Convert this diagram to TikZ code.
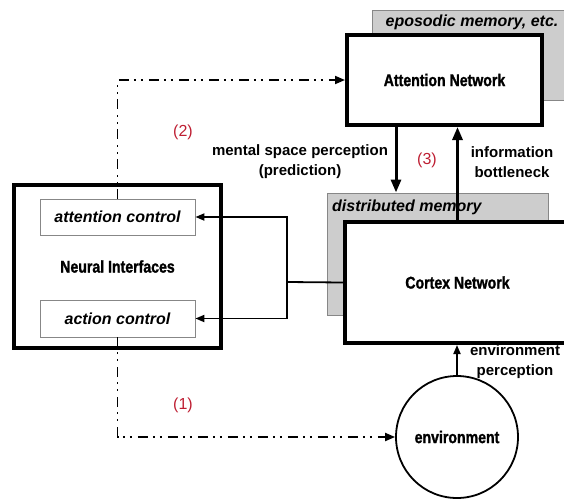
\documentclass[tikz,border=0pt]{standalone}
\usepackage{fontspec}
\setmainfont{Liberation Sans}
% narrow heavy face for the main block titles
\newfontfamily\heavyfont{Liberation Sans Bold}[FakeStretch=0.83, FakeBold=1.4]
\usetikzlibrary{arrows.meta,calc}
\definecolor{memgray}{RGB}{205,205,205}
\definecolor{edgegray}{RGB}{135,135,135}
\definecolor{numred}{RGB}{190,30,50}
\tikzset{
  bigbox/.style={draw=black, line width=4pt, fill=white, inner sep=0pt},
  boxtext/.style={inner sep=0pt, font=\heavyfont\fontsize{17}{20}\selectfont},
  membox/.style={draw=edgegray, line width=1pt, fill=memgray, inner sep=0pt},
  ctlbox/.style={draw=edgegray, line width=0.8pt, fill=white, inner sep=0pt,
    font=\bfseries\itshape\fontsize{16}{19}\selectfont},
  memlabel/.style={font=\bfseries\itshape\fontsize{16}{19}\selectfont, inner sep=0pt},
  lbl/.style={font=\bfseries\fontsize{15}{20}\selectfont, align=center, inner sep=0pt},
  num/.style={font=\fontsize{16}{19}\selectfont, text=numred, inner sep=0pt},
  feed/.style={line width=1.8pt, -{Triangle[length=9pt,width=7pt]}},
  flow/.style={line width=3pt, -{Triangle[length=13pt,width=10pt]}},
  ctrl/.style={line width=1.9pt,
    dash pattern=on 10pt off 5pt on 2pt off 5pt on 2pt off 6pt,
    -{Triangle[length=10pt,width=8pt]}},
}
\begin{document}
\begin{tikzpicture}[x=1pt,y=-1pt]
% the canvas; the two wide boxes are cut off at its right side
\clip (0,0) rectangle (564,498);

% memory layers behind the networks
\node[membox, minimum width=268pt, minimum height=90pt] (epimem) at (506,55) {};
\node[memlabel] (epilabel) at (472,22) {eposodic memory, etc.};
\node[membox, minimum width=221pt, minimum height=122pt] (distmem) at (437.5,254) {};
\node[memlabel, anchor=west] (distlabel) at (332,207) {distributed memory};

% networks
\node[bigbox, boxtext, minimum width=195pt, minimum height=90pt] (attnet) at (444.5,80) {Attention Network};
\node[bigbox, minimum width=295pt, minimum height=121pt] (cortex) at (492.5,282.5) {};
\node[boxtext] (cortexlabel) at (457.5,282.5) {Cortex Network};

% neural interfaces with the two control units
\node[bigbox, boxtext, minimum width=207pt, minimum height=163pt] (neural) at (117.5,266.5) {Neural Interfaces};
\node[ctlbox, minimum width=155pt, minimum height=36pt] (attctl) at (117.5,217) {attention control};
\node[ctlbox, minimum width=155pt, minimum height=37pt] (actctl) at (117.5,318.5) {action control};

% environment
\node[draw, circle, line width=1.8pt, minimum size=122pt, boxtext] (env) at (457,437) {environment};

% cortex feedback to the control units
\coordinate (split) at (287,282);
\draw[line width=1.8pt] (cortex.west) -- (split);
\draw[feed] (split) |- (attctl.east);
\draw[feed] (split) |- (actctl.east);

% control signals
\draw[ctrl] (attctl.north) |- (attnet.west);
\draw[ctrl] (actctl.south) |- (env.west);

% flows between the networks
\coordinate (down) at (396,0);
\coordinate (up) at (457.5,0);
\draw[flow] (attnet.south -| down) -- (distmem.north -| down);
\draw[flow] (cortex.north -| up) -- (attnet.south -| up);
\draw[feed] (env.north) -- (cortex.south -| env.north);

% labels
\node[lbl] (msp) at (300,162) {mental space perception\\(prediction)};
\node[lbl] (ib) at (512,162) {information\\bottleneck};
\node[lbl] (ep) at (515,362) {environment\\perception};
\node[num] (n1) at (183,405) {(1)};
\node[num] (n2) at (183,132) {(2)};
\node[num] (n3) at (427,160) {(3)};
\end{tikzpicture}
\end{document}
